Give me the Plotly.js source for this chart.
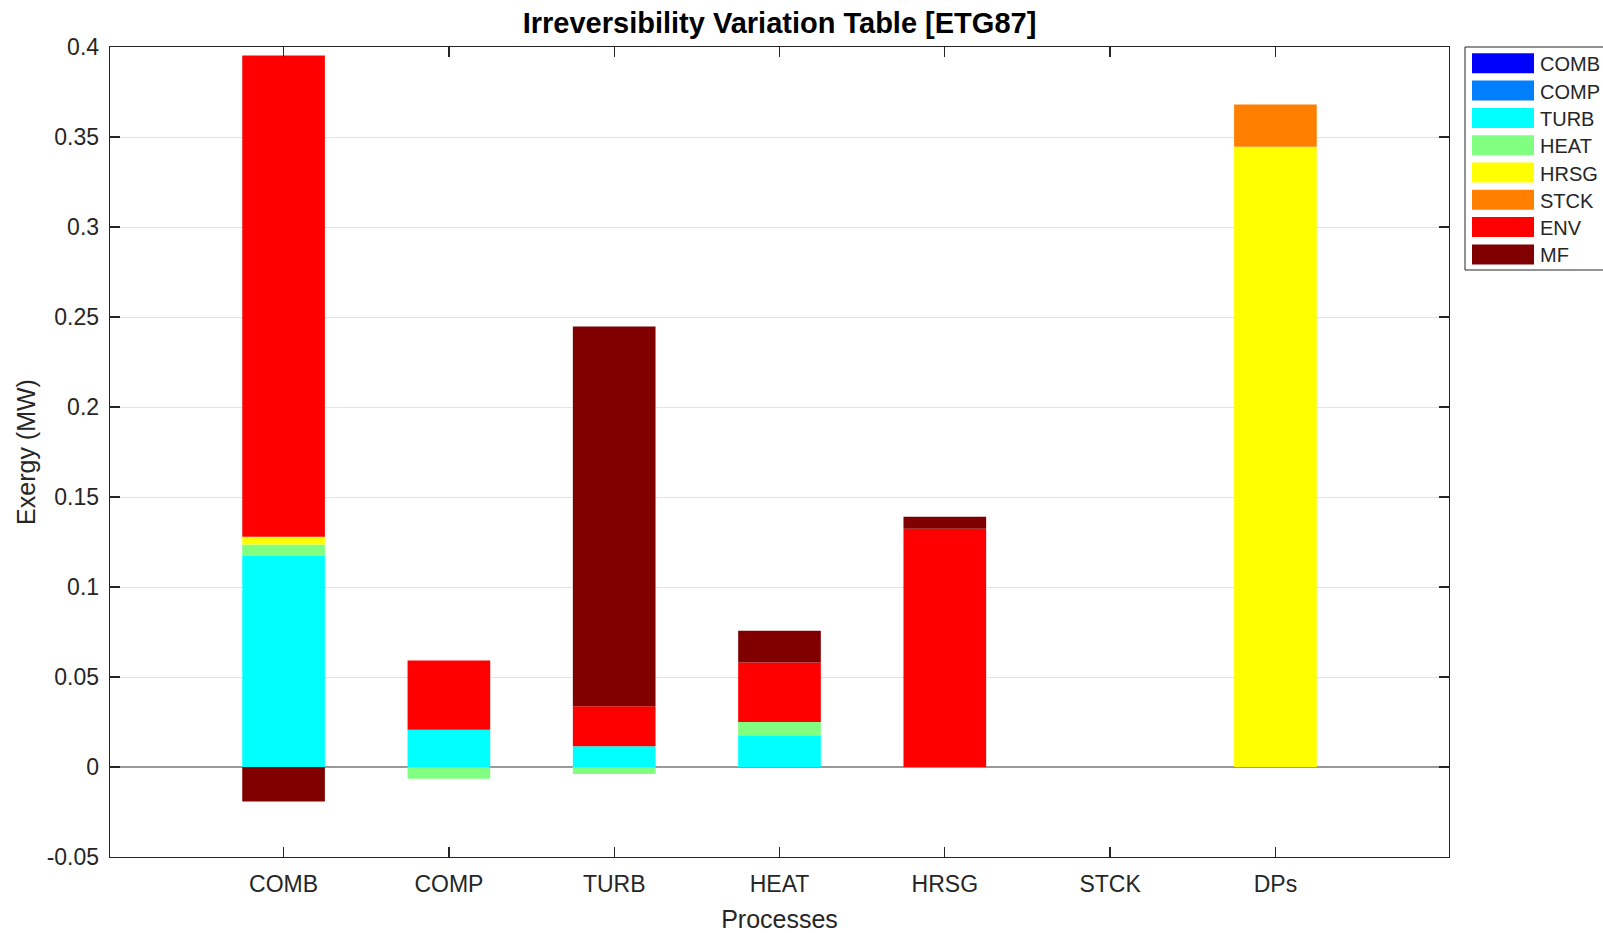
<!DOCTYPE html>
<html>
<head>
<meta charset="utf-8">
<script src="https://cdn.plot.ly/plotly-3.0.1.min.js"></script>
<style>html,body{margin:0;padding:0;background:#fff;}#chart{width:1603px;height:933px;}</style>
</head>
<body>
<div id="chart"></div>
<script>
// Categories (processes) on the x axis
const categories = ["COMB", "COMP", "TURB", "HEAT", "HRSG", "STCK", "DPs"];
// Series (stack components) and their colours
const seriesNames = ["COMB", "COMP", "TURB", "HEAT", "HRSG", "STCK", "ENV", "MF"];
const seriesColors = ["#0000FF", "#0080FF", "#00FFFF", "#80FF80", "#FFFF00", "#FF8000", "#FF0000", "#800000"];
// Values (MW) per series, one per category
const COMB = [0, 0, 0, 0, 0, 0, 0];
const COMP = [0, 0, 0, 0, 0, 0, 0];
const TURB = [0.1175, 0.0207, 0.0115, 0.0176, 0, 0, 0];
const HEAT = [0.0061, -0.0065, -0.0039, 0.0074, 0, 0, 0];
const HRSG = [0.0043, 0, 0, 0, 0, 0, 0.3446];
const STCK = [0, 0, 0, 0, 0, 0, 0.0235];
const ENV  = [0.2674, 0.0385, 0.0222, 0.0331, 0.1323, 0, 0];
const MF   = [-0.0191, 0, 0.2110, 0.0176, 0.0067, 0, 0];
const seriesValues = [COMB, COMP, TURB, HEAT, HRSG, STCK, ENV, MF];
// Y tick labels
const yTickVals = [-0.05, 0, 0.05, 0.1, 0.15, 0.2, 0.25, 0.3, 0.35, 0.4];
const yTickText = ["-0.05", "0", "0.05", "0.1", "0.15", "0.2", "0.25", "0.3", "0.35", "0.4"];

const FONT = "Liberation Sans, Arial, Helvetica, sans-serif";
const TXT = "#262626";

const traces = seriesNames.map((name, i) => ({
  type: "bar",
  name: name,
  x: categories,
  y: seriesValues[i],
  marker: {color: seriesColors[i], line: {width: 0}},
  width: 0.5,
  showlegend: false,
  hoverinfo: "name+y"
}));

// Custom MATLAB-style legend (wide swatches), built from series names/colours
const W = 1603, H = 933;
const L = 110, R = 1449, T = 47, B = 857;
const px = v => (v - L) / (R - L);
const py = v => (B - v) / (B - T);
const shapes = [{
  type: "rect", xref: "paper", yref: "paper",
  x0: px(1465), x1: px(1612), y0: py(47), y1: py(270),
  line: {color: TXT, width: 1}, fillcolor: "#ffffff", layer: "above"
}];
const annotations = [];
seriesNames.forEach((name, i) => {
  const cy = 63.3 + i * 27.3;
  shapes.push({
    type: "rect", xref: "paper", yref: "paper",
    x0: px(1472), x1: px(1534), y0: py(cy - 10), y1: py(cy + 10),
    line: {width: 0}, fillcolor: seriesColors[i], layer: "above"
  });
  annotations.push({
    xref: "paper", yref: "paper", x: px(1538), y: py(cy + 1),
    xanchor: "left", yanchor: "middle", showarrow: false,
    text: name, font: {family: FONT, size: 20, color: TXT}
  });
});

const layout = {
  width: W, height: H,
  margin: {l: L, r: W - R, t: T, b: H - B, pad: 0},
  paper_bgcolor: "#ffffff", plot_bgcolor: "#ffffff",
  barmode: "relative",
  bargap: 0.5,
  font: {family: FONT, size: 23, color: TXT},
  title: {
    text: "<b>Irreversibility Variation Table [ETG87]</b>",
    font: {family: FONT, size: 29, color: "#000000"},
    x: (L + R) / 2 / W, xanchor: "center", y: 1 - 23 / H, yanchor: "middle"
  },
  xaxis: {
    type: "category",
    range: [-1.05, 7.05],
    showgrid: false, zeroline: false,
    showline: true, linecolor: TXT, linewidth: 1.3, mirror: "ticks",
    ticks: "inside", ticklen: 10, tickwidth: 1.3, tickcolor: TXT,
    ticklabelstandoff: 6,
    tickfont: {family: FONT, size: 23, color: TXT},
    title: {text: "Processes", font: {family: FONT, size: 25, color: TXT}, standoff: 14},
    automargin: false
  },
  yaxis: {
    range: [-0.05, 0.4],
    tickvals: yTickVals, ticktext: yTickText,
    showgrid: true, gridcolor: "#e3e3e3", gridwidth: 1,
    zeroline: true, zerolinecolor: "#9a9a9a", zerolinewidth: 1.3,
    showline: true, linecolor: TXT, linewidth: 1.3, mirror: "ticks",
    ticks: "inside", ticklen: 10, tickwidth: 1.3, tickcolor: TXT,
    ticklabelstandoff: 5,
    tickfont: {family: FONT, size: 23, color: TXT},
    title: {text: "Exergy (MW)", font: {family: FONT, size: 25, color: TXT}, standoff: 4},
    automargin: false
  },
  shapes: shapes,
  annotations: annotations
};

Plotly.newPlot("chart", traces, layout, {displayModeBar: false, staticPlot: true});
</script>
</body>
</html>
